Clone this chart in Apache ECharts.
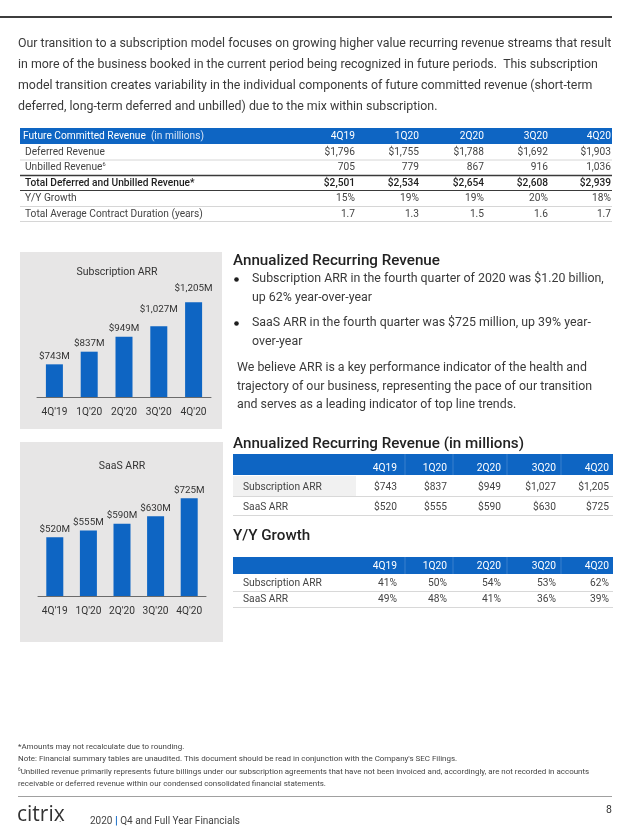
<!DOCTYPE html>
<html>
<head>
<meta charset="utf-8">
<script src="https://cdn.jsdelivr.net/npm/echarts@6.0.0/dist/echarts.min.js"></script>
<style>
html,body{margin:0;padding:0;background:#fff;}
#chart{width:632px;height:840px;}
</style>
</head>
<body>
<div id="chart"></div>
<script>
// ---------------- DATA ----------------
const introLines = [
  "Our transition to a subscription model focuses on growing higher value recurring revenue streams that result",
  "in more of the business booked in the current period being recognized in future periods.  This subscription",
  "model transition creates variability in the individual components of future committed revenue (short-term",
  "deferred, long-term deferred and unbilled) due to the mix within subscription."
];
const fcrQuarters = ['4Q19', '1Q20', '2Q20', '3Q20', '4Q20'];
const deferredRevenue = ['$1,796', '$1,755', '$1,788', '$1,692', '$1,903'];
const unbilledRevenue = ['705', '779', '867', '916', '1,036'];
const totalDeferredUnbilled = ['$2,501', '$2,534', '$2,654', '$2,608', '$2,939'];
const fcrGrowth = ['15%', '19%', '19%', '20%', '18%'];
const contractDuration = ['1.7', '1.3', '1.5', '1.6', '1.7'];

const arrCategories = ["4Q'19", "1Q'20", "2Q'20", "3Q'20", "4Q'20"];
const subscriptionArr = [743, 837, 949, 1027, 1205];
const saasArr = [520, 555, 590, 630, 725];
const arrQuarters = ['4Q19', '1Q20', '2Q20', '3Q20', '4Q20'];
const subscriptionArrGrowth = [41, 50, 54, 53, 62];
const saasArrGrowth = [49, 48, 41, 36, 39];

const arrBullets = [
  ["Subscription ARR in the fourth quarter of 2020 was $1.20 billion,", "up 62% year-over-year"],
  ["SaaS ARR in the fourth quarter was $725 million, up 39% year-", "over-year"]
];
const arrParagraph = [
  "We believe ARR is a key performance indicator of the health and",
  "trajectory of our business, representing the pace of our transition",
  "and serves as a leading indicator of top line trends."
];
const footnotes = [
  "*Amounts may not recalculate due to rounding.",
  "Note: Financial summary tables are unaudited. This document should be read in conjunction with the Company's SEC Filings.",
  "{sup|6}Unbilled revenue primarily represents future billings under our subscription agreements that have not been invoiced and, accordingly, are not recorded in accounts",
  "receivable or deferred revenue within our condensed consolidated financial statements."
];

// ---------------- STYLE / LAYOUT ----------------
const BLUE = '#0e65c3';
const PANEL = '#e7e6e6';
const TXT = '#3a3a3a';
const FONT = 'Roboto, "Noto Sans", sans-serif';
const subLabelLift = [0, 0, 0, 9, 6];

const cv = document.createElement('canvas').getContext('2d');
function fitSize(str, base, target, weight) {
  cv.font = (weight || 400) + ' ' + base + 'px Roboto';
  const w = cv.measureText(str).width;
  return base * target / w;
}
const fsBody = fitSize(introLines[0], 12, 594);
const fsHead = fitSize('Annualized Recurring Revenue', 16, 207, 500);
const fsTab = fitSize('Total Average Contract Duration (years)', 11, 178);
const fsArrTab = fitSize('Subscription ARR', 11, 79);
const fsFoot = fitSize(footnotes[1], 8, 440);

function T(x, y, text, o) {
  o = o || {};
  return {
    type: 'text', x: x, y: y, z: o.z || 5, silent: true,
    style: {
      text: text,
      fontSize: o.size || fsBody,
      fontFamily: o.family || FONT,
      fontWeight: o.weight || 400,
      fill: o.color || TXT,
      align: o.align || 'left', textAlign: o.align || 'left',
      verticalAlign: 'middle', textVerticalAlign: 'middle',
      rich: o.rich
    }
  };
}
function R(x, y, w, h, fill, z) {
  return { type: 'rect', z: z || 0, silent: true, shape: { x: x, y: y, width: w, height: h }, style: { fill: fill } };
}
function L(x1, y, x2, color, w) {
  return { type: 'line', z: 3, silent: true, shape: { x1: x1, y1: y, x2: x2, y2: y }, style: { stroke: color, lineWidth: w || 1 } };
}

const els = [];
// top rule
els.push(L(0, 17, 612, '#3d3d3d', 2));
// intro paragraph
introLines.forEach((s, i) => els.push(T(18, 44 + i * 21, s)));

// ---- Future committed revenue table ----
const t1Cols = [355, 419, 484, 548, 611];
els.push(R(20, 128, 592, 16, BLUE, 1));
els.push(T(23, 136.5, 'Future Committed Revenue  {l|(in millions)}', {
  size: fsTab, color: '#fff',
  rich: { l: { fontSize: fsTab, fontFamily: FONT, fill: '#d6e4f5', color: '#d6e4f5' } }
}));
fcrQuarters.forEach((q, i) => els.push(T(t1Cols[i], 136.5, q, { size: fsTab, color: '#fff', align: 'right' })));
const t1Rows = [
  { label: 'Deferred Revenue', vals: deferredRevenue, y: 152 },
  { label: 'Unbilled Revenue{sup|6}', vals: unbilledRevenue, y: 167.5 },
  { label: 'Total Deferred and Unbilled Revenue*', vals: totalDeferredUnbilled, y: 183, bold: true },
  { label: 'Y/Y Growth', vals: fcrGrowth, y: 198.5 },
  { label: 'Total Average Contract Duration (years)', vals: contractDuration, y: 214 }
];
t1Rows.forEach(r => {
  const col = r.bold ? '#1e1e1e' : '#444';
  const w = r.bold ? 500 : 400;
  els.push(T(25, r.y, r.label, {
    size: fsTab, color: col, weight: w,
    rich: { sup: { fontSize: fsTab * 0.55, fontFamily: FONT, fill: col, color: col, verticalAlign: 'top', padding: [0, 0, 6, 0] } }
  }));
  r.vals.forEach((v, i) => els.push(T(t1Cols[i], r.y, v, { size: fsTab, color: col, weight: w, align: 'right' })));
});
els.push(L(20, 160, 612, '#d6d6d6', 1));
els.push(L(20, 175.5, 612, '#3a3a3a', 1.5));
els.push(L(20, 190.5, 612, '#3a3a3a', 1));
els.push(L(20, 206.5, 612, '#d6d6d6', 1));
els.push(L(20, 221.5, 612, '#d6d6d6', 1));

// ---- left panels ----
els.push(R(20, 252, 202, 177, PANEL, 0));
els.push(R(20, 442, 203, 200, PANEL, 0));
els.push(T(117, 272, 'Subscription ARR', { size: 10.5, color: '#333', align: 'center' }));
els.push(T(122, 466, 'SaaS ARR', { size: 10.5, color: '#333', align: 'center' }));

// ---- right text ----
els.push(T(233, 261, 'Annualized Recurring Revenue', { size: fsHead, weight: 500, color: '#222' }));
arrBullets.forEach((b, i) => {
  const y0 = [279, 323][i];
  els.push({ type: 'circle', z: 5, silent: true, shape: { cx: 236.5, cy: y0 + 0.5, r: 2.3 }, style: { fill: '#1e1e1e' } });
  b.forEach((s, j) => els.push(T(252, y0 + j * 18.5, s)));
});
arrParagraph.forEach((s, i) => els.push(T(237, 368 + i * 18.5, s)));

els.push(T(233, 444, 'Annualized Recurring Revenue (in millions)', { size: fsHead, weight: 500, color: '#222' }));
els.push(T(233, 536, 'Y/Y Growth', { size: fsHead, weight: 500, color: '#222' }));

const t2Cols = [397, 447, 501, 556, 609];
const sepX = [405, 453, 507, 561];
function arrTable(headTop, headH, headY, rows) {
  els.push(R(233, headTop, 380, headH, BLUE, 1));
  sepX.forEach(x => els.push({ type: 'line', z: 2, silent: true, shape: { x1: x, y1: headTop, x2: x, y2: headTop + headH }, style: { stroke: 'rgba(255,255,255,0.18)', lineWidth: 1 } }));
  arrQuarters.forEach((q, i) => els.push(T(t2Cols[i], headY, q, { size: fsArrTab, color: '#fff', align: 'right' })));
  rows.forEach(r => {
    els.push(T(243, r.y, r.label, { size: fsArrTab, color: '#444' }));
    r.vals.forEach((v, i) => els.push(T(t2Cols[i], r.y, v, { size: fsArrTab, color: '#444', align: 'right' })));
    els.push(L(233, r.line, 613, '#d8d8d8', 1));
  });
}
const money = v => '$' + v.toLocaleString('en-US');
els.push(R(233, 476, 123, 20, '#f1f1f1', 0));
arrTable(454, 21, 468, [
  { label: 'Subscription ARR', vals: subscriptionArr.map(money), y: 487.5, line: 496.5 },
  { label: 'SaaS ARR', vals: saasArr.map(money), y: 507.5, line: 515.5 }
]);
arrTable(557, 17, 566.5, [
  { label: 'Subscription ARR', vals: subscriptionArrGrowth.map(v => v + '%'), y: 583, line: 591.5 },
  { label: 'SaaS ARR', vals: saasArrGrowth.map(v => v + '%'), y: 599, line: 607.5 }
]);

// ---- footer ----
footnotes.forEach((s, i) => els.push(T(18, 747 + i * 12.5, s, {
  size: fsFoot, color: '#444',
  rich: { sup: { fontSize: fsFoot * 0.6, fontFamily: FONT, fill: '#444', color: '#444', verticalAlign: 'top', padding: [0, 0, 4, 0] } }
})));
els.push(L(18, 796.5, 612, '#a0a0a0', 1));
els.push(T(17, 815, 'citrix', { size: 21, color: '#333', family: '"Open Sans", Roboto, sans-serif' }));
els.push(T(59, 820, '.', { size: 9, color: '#333' }));
els.push(T(90, 821, '2020 {b||} Q4 and Full Year Financials', {
  size: 10, color: '#444',
  rich: { b: { fontSize: 11, fontWeight: 700, fontFamily: FONT, fill: BLUE, color: BLUE } }
}));
els.push(T(612, 810, '8', { size: 10.5, color: '#333', align: 'right' }));

// ---------------- CHART ----------------
const moneyM = p => '$' + p.value.toLocaleString('en-US') + 'M';
function barSeries(idx, data, lifts) {
  return {
    type: 'bar', xAxisIndex: idx, yAxisIndex: idx, barWidth: 17, z: 4,
    itemStyle: { color: BLUE },
    label: { show: true, position: 'top', distance: 3, formatter: moneyM, fontSize: 9.8, fontFamily: FONT, color: '#333' },
    data: data.map((v, i) => lifts ? { value: v, label: { distance: 3 + lifts[i] } } : v),
    animation: false
  };
}
function xAx(gi) {
  return {
    type: 'category', gridIndex: gi, data: arrCategories,
    axisLine: { lineStyle: { color: '#6b6b6b', width: 1 } },
    axisTick: { show: false },
    axisLabel: { interval: 0, hideOverlap: false, margin: 10, fontSize: 10.2, fontFamily: FONT, color: '#333' }
  };
}
const chart = echarts.init(document.getElementById('chart'), null, { renderer: 'canvas' });
chart.setOption({
  animation: false,
  backgroundColor: '#fff',
  grid: [
    { left: 37, top: 276, width: 174, height: 121 },
    { left: 38, top: 484, width: 168, height: 112 }
  ],
  xAxis: [xAx(0), xAx(1)],
  yAxis: [
    { type: 'value', gridIndex: 0, min: 500, max: 1400, show: false, splitLine: { show: false } },
    { type: 'value', gridIndex: 1, min: 210, max: 800, show: false, splitLine: { show: false } }
  ],
  series: [barSeries(0, subscriptionArr, subLabelLift), barSeries(1, saasArr, null)],
  graphic: { elements: els }
});
</script>
</body>
</html>
